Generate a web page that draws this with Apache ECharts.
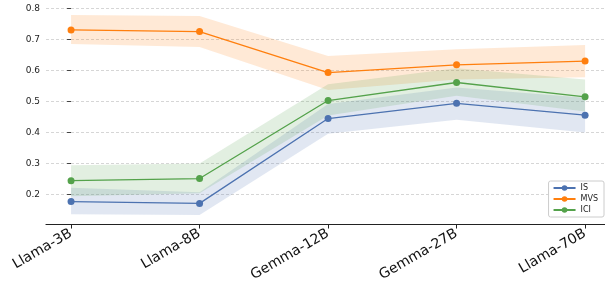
<!DOCTYPE html>
<html>
<head>
<meta charset="utf-8">
<script src="https://cdn.jsdelivr.net/npm/echarts@6/dist/echarts.min.js"></script>
<style>
  html, body { margin: 0; padding: 0; background: #fff; }
  #chart { width: 605px; height: 284px; }
</style>
</head>
<body>
<div id="chart"></div>
<script>
var models = ['Llama-3B', 'Llama-8B', 'Gemma-12B', 'Gemma-27B', 'Llama-70B'];
var yTicks = [0.2, 0.3, 0.4, 0.5, 0.6, 0.7, 0.8];

var is_mean = [0.178, 0.172, 0.445, 0.494, 0.456];
var is_low  = [0.137, 0.135, 0.396, 0.441, 0.400];
var is_high = [0.222, 0.208, 0.492, 0.545, 0.512];

var mvs_mean = [0.730, 0.725, 0.593, 0.618, 0.630];
var mvs_low  = [0.685, 0.675, 0.537, 0.571, 0.578];
var mvs_high = [0.778, 0.775, 0.646, 0.668, 0.682];

var ici_mean = [0.245, 0.252, 0.503, 0.561, 0.515];
var ici_low  = [0.195, 0.205, 0.455, 0.518, 0.468];
var ici_high = [0.295, 0.300, 0.555, 0.607, 0.571];

var colors = { IS: '#4c72b0', MVS: '#ff7f0e', ICI: '#54a24b' };

function pts(arr) {
  return arr.map(function (v, i) { return [i, v]; });
}

// shaded band between low and high, drawn as one polygon via the axis scales
function band(name, low, high) {
  var data = low.map(function (v, i) { return [i, v, high[i]]; });
  return {
    type: 'custom', name: name + '_band', data: data, silent: true, z: 1,
    renderItem: function (params, api) {
      if (params.dataIndex !== 0) return;
      var top = [], bottom = [];
      for (var i = 0; i < data.length; i++) {
        top.push(api.coord([data[i][0], data[i][2]]));
        bottom.unshift(api.coord([data[i][0], data[i][1]]));
      }
      return {
        type: 'polygon',
        shape: { points: top.concat(bottom) },
        style: { fill: colors[name], opacity: 0.17 }
      };
    }
  };
}

function meanLine(name, mean) {
  return {
    type: 'line', name: name, data: pts(mean), z: 3,
    symbol: 'circle', symbolSize: 7,
    lineStyle: { width: 1.3, color: colors[name] },
    itemStyle: { color: colors[name] }
  };
}

var series = [
  band('IS', is_low, is_high),
  band('MVS', mvs_low, mvs_high),
  band('ICI', ici_low, ici_high),
  meanLine('IS', is_mean),
  meanLine('MVS', mvs_mean),
  meanLine('ICI', ici_mean)
];

var option = {
  animation: false,
  grid: { left: 46, right: 0, top: 2, bottom: 59 },
  legend: {
    data: ['IS', 'MVS', 'ICI'],
    orient: 'vertical',
    right: 1, top: 181,
    itemWidth: 22, itemHeight: 7, itemGap: 3,
    padding: [3, 6, 3, 4],
    backgroundColor: '#fff',
    borderColor: '#ccc', borderWidth: 1, borderRadius: 2,
    textStyle: { fontFamily: 'DejaVu Sans', fontSize: 8, color: '#222' }
  },
  xAxis: {
    type: 'value', min: -0.195, max: 4.155,
    axisLine: { show: true, lineStyle: { color: '#222', width: 1.2 } },
    axisTick: { show: true, customValues: [0, 1, 2, 3, 4], length: 4, lineStyle: { color: '#222' } },
    axisLabel: {
      customValues: [0, 1, 2, 3, 4],
      formatter: function (v) { return models[Math.round(v)]; },
      rotate: 30, fontFamily: 'DejaVu Sans', fontSize: 14, color: '#111', margin: 8
    },
    splitLine: { show: false }
  },
  yAxis: {
    type: 'value', min: 0.104, max: 0.82,
    axisLine: { show: false },
    axisTick: { show: true, customValues: yTicks, length: 4, lineStyle: { color: '#444' } },
    axisLabel: {
      customValues: yTicks,
      formatter: function (v) { return v.toFixed(1); },
      fontFamily: 'DejaVu Sans', fontSize: 9, color: '#222', margin: 6
    },
    splitLine: { show: true, lineStyle: { color: '#ccc', type: [3, 2], width: 0.8 } }
  },
  series: series
};

var myChart = echarts.init(document.getElementById('chart'));
myChart.setOption(option);
</script>
</body>
</html>
